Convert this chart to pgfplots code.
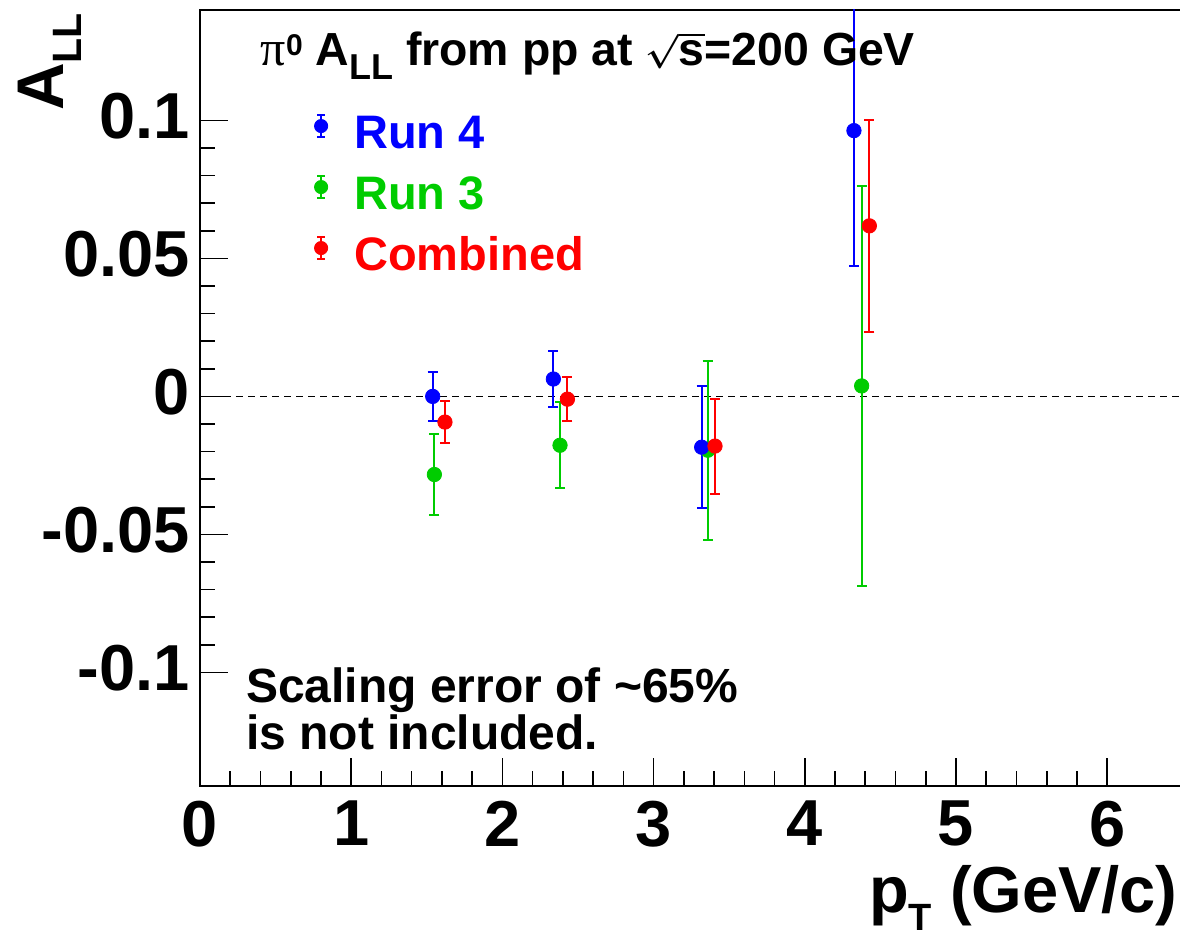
\documentclass[border=0pt]{standalone}
\usepackage{pgfplots}
\pgfplotsset{compat=1.18}
\usepackage{fontspec}
\setmainfont{Liberation Sans}
\newfontfamily\seriffont{Liberation Serif}
\definecolor{rblue}{RGB}{0,0,255}
\definecolor{rgreen}{RGB}{0,204,0}
\definecolor{rred}{RGB}{255,0,0}
\newcommand{\lowsub}[3]{\raisebox{-#2}{\fontsize{#1}{#1}\selectfont #3}}

\pgfplotstableread{
x      y        e
1.539  0.0000   0.0090
2.337  0.0063   0.0102
3.318 -0.0184   0.0220
4.325  0.0963   0.0490
}\runfour
\pgfplotstableread{
x      y        e
1.550 -0.0283   0.0147
2.381 -0.0177   0.0155
3.358 -0.0195   0.0325
4.376  0.0038   0.0725
}\runthree
\pgfplotstableread{
x      y        e
1.620 -0.0093   0.0075
2.430 -0.0010   0.0080
3.406 -0.0180   0.0172
4.427  0.0618   0.0385
}\combined

\pgfplotsset{
  myleg/.style={legend image code/.code={
    \draw[line width=1pt] (0pt,5.7pt)--(0pt,16.7pt)
       (-2pt,5.7pt)--(2pt,5.7pt) (-2pt,16.7pt)--(2pt,16.7pt);
    \fill (0pt,11.2pt) circle (3.3pt);}},
  datastyle/.style={only marks, mark=*, mark size=3.6pt,
    mark options={draw=#1, fill=#1}, color=#1,
    error bars/.cd, y dir=both, y explicit,
    error bar style={line width=1pt, #1},
    error mark options={rotate=90, mark size=2.5pt, line width=1pt, #1},
    /pgfplots/.cd},
}

\begin{document}
\begin{tikzpicture}[x=1pt,y=1pt]
\useasboundingbox (0,0) rectangle (590,468.5);
\begin{axis}[
  at={(100pt,75.7pt)}, anchor=south west,
  scale only axis, width=491.4pt, height=387.8pt,
  xmin=0, xmax=6.5, ymin=-0.141, ymax=0.14,
  axis line style={line width=1pt},
  xtick={0,1,2,3,4,5,6},
  xticklabels={0,1,2,3,4,5,6},
  ytick={-0.1,-0.05,0,0.05,0.1},
  yticklabels={-0.1,-0.05,0,0.05,0.1},
  minor x tick num=4, minor y tick num=4,
  tick align=inside, xtick pos=bottom, ytick pos=left,
  major tick length=14pt, minor tick length=7.5pt,
  tick style={line width=0.8pt, black},
  ticklabel style={font=\bfseries\fontsize{32.5}{32.5}\selectfont, inner sep=0pt},
  xticklabel style={yshift=-7.5pt},
  yticklabel style={xshift=-5pt, yshift=2pt},
  legend style={at={(axis cs:0.7547,0.1023)}, anchor=north west,
    draw=none, fill=none, inner sep=0pt, outer sep=0pt,
    row sep=11.8pt, nodes={inner sep=0pt}, cells={anchor=base west},
    font=\bfseries\fontsize{23.5}{23.5}\selectfont,
    /tikz/every odd column/.style={column sep=13pt}},
]
\addlegendimage{rblue, myleg}
\addlegendentry{\textcolor{rblue}{Run 4}}
\addlegendimage{rgreen, myleg}
\addlegendentry{\textcolor{rgreen}{Run 3}}
\addlegendimage{rred, myleg}
\addlegendentry{\textcolor{rred}{Combined}}

\addplot[black, line width=0.6pt, dash pattern=on 3.5pt off 2.5pt, forget plot]
  coordinates {(0,0) (6.5,0)};

\addplot[forget plot, datastyle=rgreen] table[x=x, y=y, y error=e] {\runthree};
\addplot[forget plot, datastyle=rblue] table[x=x, y=y, y error=e] {\runfour};
\addplot[forget plot, datastyle=rred] table[x=x, y=y, y error=e] {\combined};

\node[anchor=base west, inner sep=0pt, font=\bfseries\fontsize{23.2}{23.2}\selectfont]
  at (axis cs:0.40,0.1199)
  {{\seriffont\mdseries\fontsize{25}{25}\selectfont π}\raisebox{5pt}{\fontsize{15}{15}\selectfont 0} A\lowsub{18pt}{7pt}{LL} from pp at {\fontsize{18}{18}\selectfont\boldmath$\sqrt{\mbox{\fontsize{23.2}{23.2}\selectfont s}}$}=200 GeV};

\node[anchor=base west, inner sep=0pt, font=\bfseries\fontsize{24}{24}\selectfont]
  at (axis cs:0.303,-0.1110) {Scaling error of \textasciitilde65\%};
\node[anchor=base west, inner sep=0pt, font=\bfseries\fontsize{24}{24}\selectfont]
  at (axis cs:0.303,-0.1278) {is not included.};
\end{axis}

\node[anchor=base east, inner sep=0pt, font=\bfseries\fontsize{32.5}{32.5}\selectfont]
  at (589pt,12pt) {p\lowsub{19pt}{9pt}{T} (GeV/c)};
\node[rotate=90, anchor=base east, inner sep=0pt, font=\bfseries\fontsize{33}{33}\selectfont]
  at (31.5pt,462.2pt) {A\lowsub{20.5pt}{9.5pt}{LL}};
\end{tikzpicture}
\end{document}
